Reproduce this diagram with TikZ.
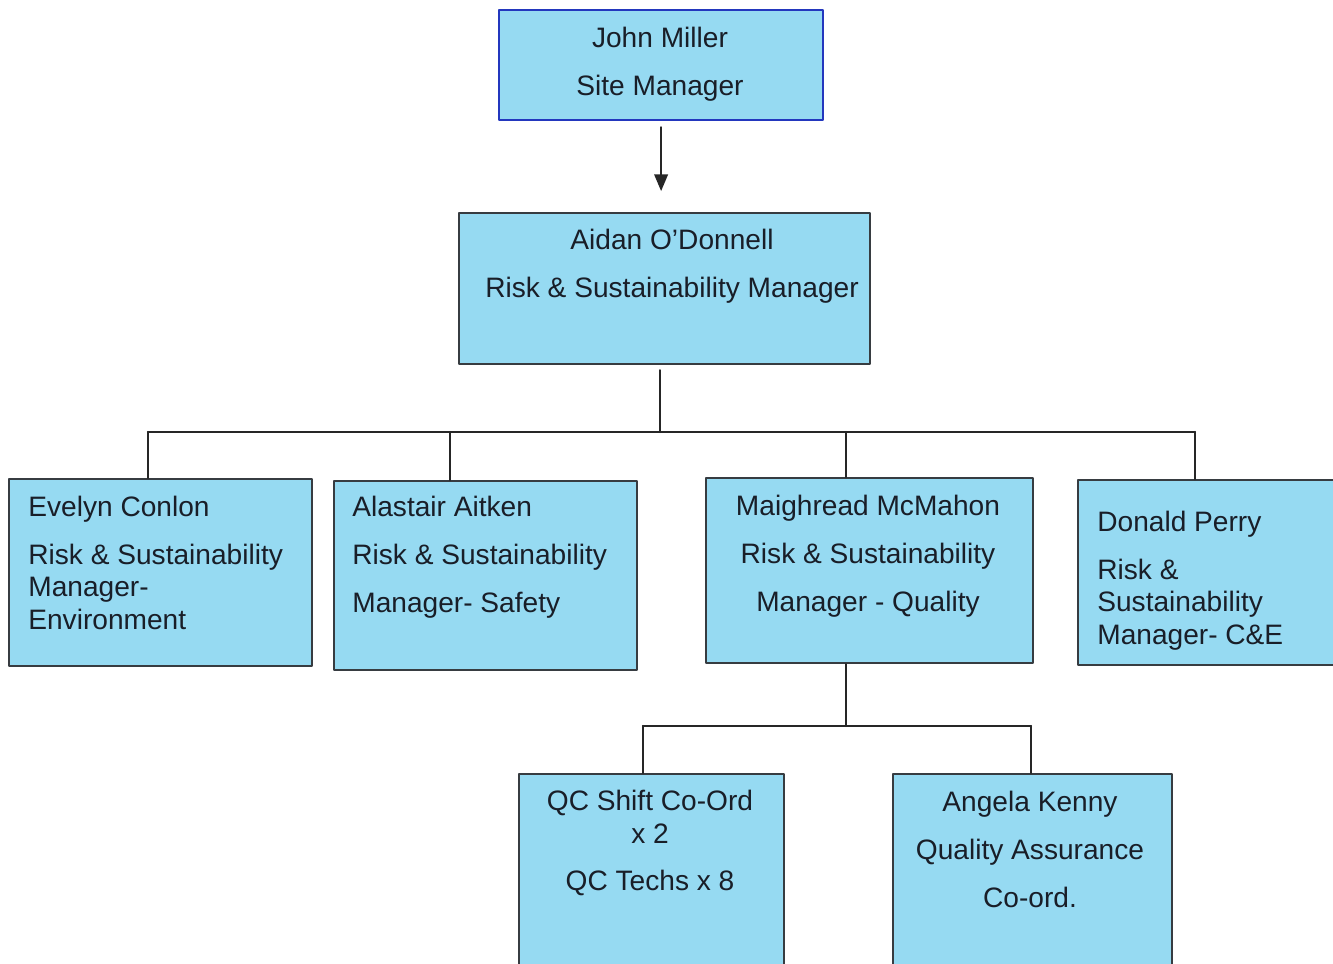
\documentclass[tikz,border=0pt]{standalone}
\usepackage{fontspec}
\setmainfont{Liberation Sans}
\usetikzlibrary{arrows}

\definecolor{boxfill}{RGB}{150,218,242}
\definecolor{bossline}{RGB}{35,55,190}
\definecolor{boxline}{RGB}{55,60,65}
\definecolor{inktext}{RGB}{25,30,40}

\tikzset{
	orgbox/.style={draw=boxline,fill=boxfill,line width=1.3pt,inner sep=0pt,anchor=north west},
	orgtext/.style={inner sep=0pt,text=inktext,font=\fontsize{16}{18.4}\selectfont},
	link/.style={line width=1.2pt,color=black!85}
}

\begin{document}
\begin{tikzpicture}[line cap=round,line join=round,>=triangle 45,x=0.02cm,y=-0.02cm]
				\useasboundingbox (0,0) rectangle (1333,964);
				\clip (0,0) rectangle (1333,964);
				% boxes
				\node [orgbox,draw=bossline,minimum width=6.48cm,minimum height=2.2cm] (john) at (498,9) {};
				\node [orgbox,minimum width=8.22cm,minimum height=3.02cm] (aidan) at (458,212) {};
				\node [orgbox,minimum width=6.06cm,minimum height=3.74cm] (evelyn) at (8,478) {};
				\node [orgbox,minimum width=6.06cm,minimum height=3.78cm] (alastair) at (333,480) {};
				\node [orgbox,minimum width=6.54cm,minimum height=3.7cm] (maighread) at (705,477) {};
				\node [orgbox,minimum width=5.36cm,minimum height=3.7cm] (donald) at (1077,479) {};
				\node [orgbox,minimum width=5.3cm,minimum height=4.14cm] (qc) at (518,773) {};
				\node [orgbox,minimum width=5.58cm,minimum height=4.14cm] (angela) at (892,773) {};
				% texts
				\node [orgtext,anchor=north,align=center] (johntext) at (660,27) {John Miller\\[8.8pt]Site Manager};
				\node [orgtext,anchor=north,align=center] (aidantext) at (672,229) {Aidan O'Donnell\\[8.8pt]Risk \& Sustainability Manager};
				\node [orgtext,anchor=north west,align=left] (evelyntext) at (28,496) {Evelyn Conlon\\[8.8pt]Risk \& Sustainability\\Manager-\\Environment};
				\node [orgtext,anchor=north west,align=left] (alastairtext) at (352,496) {Alastair Aitken\\[8.8pt]Risk \& Sustainability\\[8.8pt]Manager- Safety};
				\node [orgtext,anchor=north,align=center] (maighreadtext) at (868,495) {Maighread McMahon\\[8.8pt]Risk \& Sustainability\\[8.8pt]Manager - Quality};
				\node [orgtext,anchor=north west,align=left] (donaldtext) at (1097,511) {Donald Perry\\[8.8pt]Risk \&\\Sustainability\\Manager- C\&E};
				\node [orgtext,anchor=north,align=center] (qctext) at (650,790) {QC Shift Co-Ord\\x 2\\[8.8pt]QC Techs x 8};
				\node [orgtext,anchor=north,align=center] (angelatext) at (1030,791) {Angela Kenny\\[8.8pt]Quality Assurance\\[8.8pt]Co-ord.};
				% connectors
				\draw [link,->,shorten <=0.12cm,shorten >=0.42cm] (john.south) -- (john.south |- aidan.north);
				\coordinate (bus) at (660,432);
				\draw [link,shorten <=0.1cm] (bus |- aidan.south) -- (bus);
				\foreach \x/\n in {148/evelyn,450/alastair,846/maighread,1195/donald} {
					\coordinate (top\n) at (\x,432);
					\draw [link] (top\n) -- (top\n |- \n.north);
				}
				\draw [link] (topevelyn) -- (topdonald);
				\coordinate (subbus) at (846,726);
				\draw [link] (subbus |- maighread.south) -- (subbus);
				\foreach \x/\n in {643/qc,1031/angela} {
					\coordinate (top\n) at (\x,726);
					\draw [link] (top\n) -- (top\n |- \n.north);
				}
				\draw [link] (topqc) -- (topangela);
			\end{tikzpicture}
\end{document}
